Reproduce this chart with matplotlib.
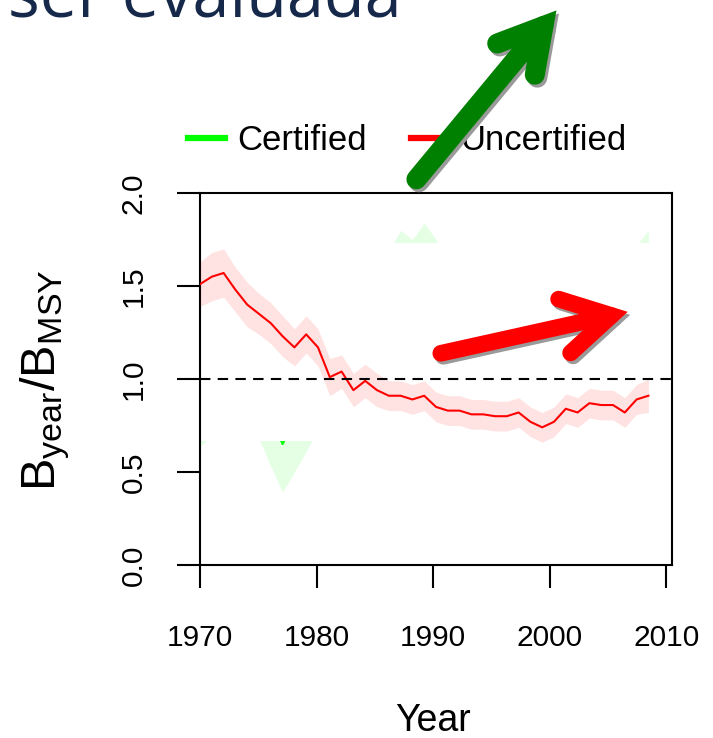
import matplotlib
matplotlib.use("Agg")
import matplotlib.pyplot as plt
from matplotlib.lines import Line2D
from matplotlib.patches import Rectangle
from matplotlib.transforms import Affine2D

# data
years = list(range(1970, 2009))

uncert_mean = [1.51, 1.55, 1.57, 1.48, 1.40, 1.35, 1.30, 1.23, 1.17, 1.24,
               1.17, 1.01, 1.04, 0.94, 0.99, 0.94, 0.91, 0.91, 0.89, 0.91,
               0.85, 0.83, 0.83, 0.81, 0.81, 0.80, 0.80, 0.82, 0.77, 0.74,
               0.77, 0.84, 0.82, 0.87, 0.86, 0.86, 0.82, 0.89, 0.91]
uncert_hw = [0.12, 0.13, 0.13, 0.12, 0.12, 0.11, 0.11, 0.11, 0.10, 0.10,
             0.10, 0.10, 0.09, 0.09, 0.09, 0.09, 0.08, 0.08, 0.08, 0.08,
             0.08, 0.08, 0.08, 0.08, 0.08, 0.08, 0.08, 0.08, 0.08, 0.08,
             0.08, 0.08, 0.08, 0.08, 0.08, 0.08, 0.08, 0.08, 0.09]

# certified series is mostly hidden behind the pasted panel
cert_mean = [0.95, 1.00, 1.05, 1.08, 1.02, 0.90, 0.80, 0.65, 0.78, 0.90,
             1.00, 1.08, 1.12, 1.18, 1.25, 1.32, 1.40, 1.50, 1.48, 1.55,
             1.45, 1.38, 1.35, 1.32, 1.30, 1.28, 1.30, 1.32, 1.35, 1.30,
             1.28, 1.30, 1.32, 1.35, 1.38, 1.40, 1.42, 1.45, 1.52]
cert_low = [0.64, 0.69, 0.74, 0.78, 0.75, 0.68, 0.53, 0.39, 0.50, 0.61,
            0.73, 0.80, 0.84, 0.88, 0.92, 0.96, 1.02, 1.10, 1.08, 1.14,
            1.08, 1.04, 1.02, 1.00, 0.98, 0.96, 0.98, 1.00, 1.02, 0.98,
            0.96, 0.98, 1.00, 1.02, 1.04, 1.06, 1.08, 1.10, 1.16]
cert_high = [1.30, 1.35, 1.40, 1.42, 1.36, 1.22, 1.10, 0.95, 1.08, 1.22,
             1.30, 1.38, 1.42, 1.48, 1.55, 1.60, 1.69, 1.80, 1.75, 1.84,
             1.75, 1.62, 1.60, 1.58, 1.56, 1.54, 1.56, 1.58, 1.62, 1.58,
             1.55, 1.58, 1.60, 1.62, 1.66, 1.68, 1.70, 1.72, 1.80]

x_ticks = [1970, 1980, 1990, 2000, 2010]
y_ticks = [0.0, 0.5, 1.0, 1.5, 2.0]
y_ticklabels = ["0.0", "0.5", "1.0", "1.5", "2.0"]
legend_labels = ["Certified", "Uncertified"]
title_fragment = "ser evaluada"

W, H = 713, 738
plt.rcParams["font.family"] = ["Liberation Sans", "DejaVu Sans"]
plt.rcParams["mathtext.fontset"] = "custom"
plt.rcParams["mathtext.rm"] = "Liberation Sans"

fig = plt.figure(figsize=(W / 100, H / 100), dpi=100)
rect = [200 / W, 1 - 565 / H, 472 / W, 372 / H]

# frame + ticks
ax = fig.add_axes(rect)
ax.set_xlim(1970, 2010.5)
ax.set_ylim(0, 2)
ax.set_xticks(x_ticks)
ax.set_yticks(y_ticks)
ax.set_yticklabels(y_ticklabels, rotation=90, va="center")
ax.tick_params(length=16.5, width=1.5, labelsize=21.5)
ax.tick_params(axis="x", pad=26)
ax.tick_params(axis="y", pad=21)
for s in ax.spines.values():
    s.set_linewidth(1.5)

# data panel (slightly different x scale, pasted on top)
dax = fig.add_axes(rect)
dax.set_xlim(1970, 2010)
dax.set_ylim(0, 2)
dax.axis("off")

dax.fill_between(years, cert_low, cert_high, color="#00ff00", alpha=0.1,
                 lw=0, zorder=1)
dax.plot(years, cert_mean, color="#00ff00", lw=1.5, zorder=2)
dax.add_patch(Rectangle((1970, 0.667), 39.85, 1.063, facecolor="white",
                        edgecolor="none", zorder=3))
dax.plot([1970, 1970], [0.667, 1.73], color="black", lw=0.8, zorder=3.5)

lo = [m - h for m, h in zip(uncert_mean, uncert_hw)]
hi = [m + h for m, h in zip(uncert_mean, uncert_hw)]
dax.fill_between(years, lo, hi, color="#ff0000", alpha=0.11, lw=0, zorder=4)
dax.plot(years, uncert_mean, color="#ff0000", lw=1.5, zorder=5)
dax.axhline(1.0, color="black", lw=1.5, dashes=(5, 3.5), zorder=6)

fig.text(433 / W, 1 - 731 / H, "Year", fontsize=27, ha="center", va="baseline")
fig.text(45 / W, 1 - 380 / H, r"$\mathregular{B_{year}/B_{MSY}}$",
         fontsize=35, rotation=90, ha="center", va="center")

handles = [Line2D([], [], color="#00ff00", lw=4.5),
           Line2D([], [], color="#ff0000", lw=4.5)]
fig.legend(handles, legend_labels, loc="center left",
           bbox_to_anchor=(188 / W, 1 - 141 / H), ncol=2, frameon=False,
           fontsize=25, handlelength=1.07, handletextpad=0.35,
           columnspacing=1.27, borderpad=0, borderaxespad=0)

fig.text(402 / W, 1 - 17 / H, title_fragment, ha="right", va="baseline",
         fontsize=48, color="#16294a", family="Open Sans")

# slide arrows, in pixel units (y down)
px = Affine2D().scale(1 / 100, -1 / 100).translate(0, H / 100) + fig.dpi_scale_trans


def slide_arrow(tail, v, w1, w2, width, color):
    for dx, dy, c, z in [(2.5, 3, "#9a9a9a", 10), (0, 0, color, 11)]:
        kw = dict(color=c, lw=width, transform=px, zorder=z,
                  solid_capstyle="round", solid_joinstyle="miter")
        fig.add_artist(Line2D([tail[0] + dx, v[0] + dx], [tail[1] + dy, v[1] + dy], **kw))
        fig.add_artist(Line2D([w1[0] + dx, v[0] + dx, w2[0] + dx],
                              [w1[1] + dy, v[1] + dy, w2[1] + dy], **kw))


slide_arrow((416.4, 179.3), (543.5, 26), (497.2, 43.5), (534.8, 74.7), 14.4, "#008000")
slide_arrow((440.8, 353.3), (611.4, 315.5), (558.6, 299.1), (570.6, 352.9), 12.0, "#ff0000")

fig.savefig("out.png", dpi=100)
